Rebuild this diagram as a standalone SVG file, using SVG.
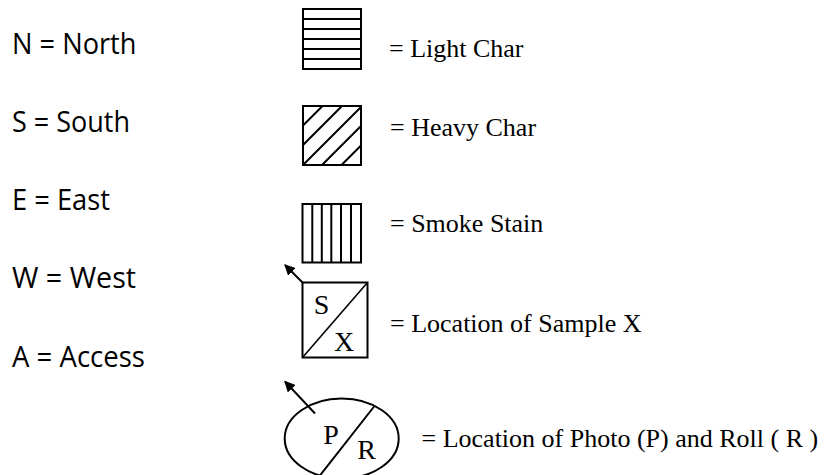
<svg xmlns="http://www.w3.org/2000/svg" width="828" height="475" viewBox="0 0 828 475">
  <style>
    .abbr { font-family: "Open Sans", "Noto Sans", sans-serif; font-size: 29px; fill: #000; }
    .lbl { font-family: "Liberation Serif", "Times New Roman", serif; font-size: 26px; fill: #000; }
    .mark { font-family: "Liberation Serif", "Times New Roman", serif; font-size: 28px; fill: #000; text-anchor: middle; }
    .box { fill: #fff; stroke: #000; stroke-width: 2; }
    .hatch { stroke: #000; stroke-width: 2; fill: none; }
    .thin { stroke: #000; stroke-width: 1.6; fill: none; }
  </style>
  <defs>
    <marker id="head" viewBox="0 0 10 10" refX="9" refY="5" markerWidth="11" markerHeight="11" markerUnits="userSpaceOnUse" orient="auto">
      <path d="M0,0 L10,5 L0,10 Z" fill="#000"/>
    </marker>
  </defs>

  <!-- abbreviations -->
  <g id="abbreviations">
    <text class="abbr" x="12" y="54" textLength="124.5" lengthAdjust="spacingAndGlyphs">N = North</text>
    <text class="abbr" x="12" y="132" textLength="118" lengthAdjust="spacingAndGlyphs">S = South</text>
    <text class="abbr" x="12" y="210" textLength="98" lengthAdjust="spacingAndGlyphs">E = East</text>
    <text class="abbr" x="12" y="288" textLength="124" lengthAdjust="spacingAndGlyphs">W = West</text>
    <text class="abbr" x="12" y="367" textLength="133" lengthAdjust="spacingAndGlyphs">A = Access</text>
  </g>

  <!-- light char: horizontal hatching -->
  <g id="light-char">
    <rect class="box" x="303" y="9" width="58" height="60"/>
    <path class="hatch" d="M303,19 H361 M303,29 H361 M303,39 H361 M303,49 H361 M303,59 H361"/>
    <text class="lbl" x="389" y="57">= Light Char</text>
  </g>

  <!-- heavy char: diagonal hatching -->
  <g id="heavy-char">
    <rect class="box" x="303" y="106" width="58" height="59"/>
    <path class="hatch" d="M303,125.5 L322.5,106 M303,145 L342,106 M303.5,164.5 L361,107 M322,165 L361,126 M341.5,165 L361,145.5"/>
    <text class="lbl" x="390" y="136">= Heavy Char</text>
  </g>

  <!-- smoke stain: vertical hatching -->
  <g id="smoke-stain">
    <rect class="box" x="302.5" y="204" width="58.5" height="58.5"/>
    <path class="hatch" d="M312.3,204 V262.5 M321.8,204 V262.5 M331.3,204 V262.5 M341,204 V262.5 M351,204 V262.5"/>
    <text class="lbl" x="390" y="232">= Smoke Stain</text>
  </g>

  <!-- sample location -->
  <g id="sample-location">
    <rect class="box" x="302.5" y="282.5" width="65" height="75"/>
    <line class="thin" x1="302.5" y1="357.5" x2="367.5" y2="282.5"/>
    <text class="mark" x="321.5" y="313.5">S</text>
    <text class="mark" x="344" y="351">X</text>
    <text class="lbl" x="390" y="332">= Location of Sample X</text>
  </g>

  <!-- photo and roll location -->
  <g id="photo-location">
    <ellipse class="box" cx="341.7" cy="438.5" rx="57" ry="40"/>
    <line class="hatch" x1="318" y1="478" x2="374.5" y2="406"/>
    <text class="mark" x="331" y="443.5">P</text>
    <text class="mark" x="366.5" y="458.5">R</text>
    <text class="lbl" x="421.5" y="447">= Location of Photo (P) and Roll ( R )</text>
  </g>

  <!-- direction arrows -->
  <g id="connectors">
    <line class="hatch" x1="302.5" y1="282.5" x2="285" y2="265" marker-end="url(#head)"/>
    <line class="hatch" x1="315" y1="413.5" x2="285" y2="381.5" marker-end="url(#head)"/>
  </g>
</svg>
